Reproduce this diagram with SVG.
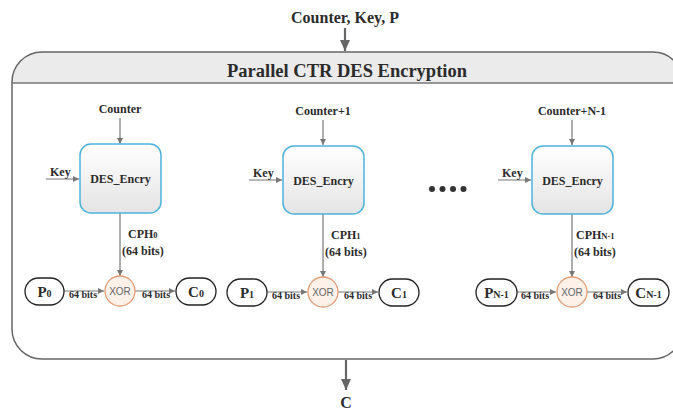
<svg xmlns="http://www.w3.org/2000/svg" width="673" height="410" viewBox="0 0 673 410">
<defs>
<linearGradient id="boxg" x1="0" y1="0" x2="0" y2="1">
<stop offset="0" stop-color="#ffffff"/>
<stop offset="1" stop-color="#e4e4e4"/>
</linearGradient>
<marker id="ah" markerUnits="userSpaceOnUse" markerWidth="7" markerHeight="7" refX="6" refY="3.5" orient="auto">
<path d="M0,0.5 L6,3.5 L0,6.5 Z" fill="#777"/>
</marker>
<marker id="ahb" markerUnits="userSpaceOnUse" markerWidth="12" markerHeight="12" refX="11" refY="6" orient="auto">
<path d="M0,1 L11,6 L0,11 Z" fill="#666"/>
</marker>
</defs>
<style>
.t{font-family:"Liberation Serif","Times New Roman",serif;font-weight:bold;fill:#2b2b2b}
.lbl{font-size:12px}
.sm{font-size:10px}
.pill{fill:#fff;stroke:#222;stroke-width:1.3}
.des{fill:url(#boxg);stroke:#4fb3d9;stroke-width:1.5}
.xor{fill:#fdf1ea;stroke:#e39a73;stroke-width:1.3}
.xt{font-family:"Liberation Sans",Arial,sans-serif;font-size:10px;fill:#666}
.ln{stroke:#777;stroke-width:1.2;fill:none}
.lnb{stroke:#666;stroke-width:2.2;fill:none}
</style>

<g id="container">
<path d="M12,83 V82 A30,30 0 0 1 42,52 H653 A30,30 0 0 1 683,82 V83 Z" fill="#ebebeb"/>
<path d="M42,52 H653 A30,30 0 0 1 683,82 V329 A30,30 0 0 1 653,359 H42 A30,30 0 0 1 12,329 V82 A30,30 0 0 1 42,52 Z" fill="none" stroke="#666" stroke-width="1.5"/>
<line x1="12" y1="83" x2="683" y2="83" stroke="#777" stroke-width="1.5"/>
<text class="t" x="347" y="77" font-size="18.5" text-anchor="middle">Parallel CTR DES Encryption</text>
</g>

<g id="input">
<text class="t" x="345" y="23" font-size="16" text-anchor="middle">Counter, Key, P</text>
</g>
<g id="output">
<text class="t" x="346" y="408" font-size="16" text-anchor="middle">C</text>
</g>

<g id="connectors">
<line class="lnb" x1="345" y1="28" x2="345" y2="51" marker-end="url(#ahb)"/>
<line class="lnb" x1="346" y1="360" x2="346" y2="390" marker-end="url(#ahb)"/>
<line class="ln" x1="120" y1="118" x2="120" y2="144" marker-end="url(#ah)"/>
<line class="ln" x1="46" y1="179" x2="79" y2="179" marker-end="url(#ah)"/>
<line class="ln" x1="120" y1="213" x2="120" y2="276" marker-end="url(#ah)"/>
<line class="ln" x1="64" y1="291" x2="104" y2="291" marker-end="url(#ah)"/>
<line class="ln" x1="135" y1="291" x2="175" y2="291" marker-end="url(#ah)"/>
<line class="ln" x1="323" y1="120" x2="323" y2="145" marker-end="url(#ah)"/>
<line class="ln" x1="249" y1="180" x2="282" y2="180" marker-end="url(#ah)"/>
<line class="ln" x1="323" y1="214" x2="323" y2="277" marker-end="url(#ah)"/>
<line class="ln" x1="267" y1="292" x2="307" y2="292" marker-end="url(#ah)"/>
<line class="ln" x1="338" y1="292" x2="378" y2="292" marker-end="url(#ah)"/>
<line class="ln" x1="572" y1="120" x2="572" y2="145" marker-end="url(#ah)"/>
<line class="ln" x1="498" y1="180" x2="531" y2="180" marker-end="url(#ah)"/>
<line class="ln" x1="572" y1="214" x2="572" y2="277" marker-end="url(#ah)"/>
<line class="ln" x1="517" y1="292" x2="556" y2="292" marker-end="url(#ah)"/>
<line class="ln" x1="587" y1="292" x2="627" y2="292" marker-end="url(#ah)"/>
</g>

<g id="labels">
<text class="t lbl" x="120" y="113" text-anchor="middle">Counter</text>
<text class="t lbl" x="50" y="176">Key</text>
<text class="t lbl" x="128" y="238">CPH<tspan font-size="8.5">0</tspan></text>
<text class="t lbl" x="122" y="255">(64 bits)</text>
<text class="t sm" x="69" y="298">64 bits</text>
<text class="t sm" x="142" y="298">64 bits</text>

<text class="t lbl" x="323" y="115" text-anchor="middle">Counter+1</text>
<text class="t lbl" x="253" y="177">Key</text>
<text class="t lbl" x="331" y="239">CPH<tspan font-size="8.5">1</tspan></text>
<text class="t lbl" x="325" y="256">(64 bits)</text>
<text class="t sm" x="272" y="299">64 bits</text>
<text class="t sm" x="344" y="299">64 bits</text>

<text class="t lbl" x="572" y="115" text-anchor="middle">Counter+N-1</text>
<text class="t lbl" x="502" y="177">Key</text>
<text class="t lbl" x="576" y="239">CPH<tspan font-size="8.5">N-1</tspan></text>
<text class="t lbl" x="574" y="256">(64 bits)</text>
<text class="t sm" x="521" y="299">64 bits</text>
<text class="t sm" x="593" y="299">64 bits</text>
</g>

<g id="des0"><rect class="des" x="80" y="144" width="81" height="69" rx="11"/><text class="t lbl" x="120.5" y="183" text-anchor="middle">DES_Encry</text></g>
<g id="des1"><rect class="des" x="283" y="146" width="81" height="68" rx="11"/><text class="t lbl" x="323.5" y="185" text-anchor="middle">DES_Encry</text></g>
<g id="desN"><rect class="des" x="532" y="146" width="81" height="68" rx="11"/><text class="t lbl" x="572.5" y="185" text-anchor="middle">DES_Encry</text></g>

<g id="xor0"><circle class="xor" cx="120" cy="291" r="15"/><text class="xt" x="120" y="295" text-anchor="middle">XOR</text></g>
<g id="xor1"><circle class="xor" cx="323" cy="292" r="15"/><text class="xt" x="323" y="296" text-anchor="middle">XOR</text></g>
<g id="xorN"><circle class="xor" cx="572" cy="292" r="15"/><text class="xt" x="572" y="296" text-anchor="middle">XOR</text></g>

<g id="p0"><rect class="pill" x="25" y="278" width="39" height="27" rx="13.5"/><text class="t" font-size="15" x="44.5" y="297" text-anchor="middle">P<tspan font-size="10">0</tspan></text></g>
<g id="c0"><rect class="pill" x="176" y="278" width="40" height="27" rx="13.5"/><text class="t" font-size="15" x="196" y="297" text-anchor="middle">C<tspan font-size="10">0</tspan></text></g>
<g id="p1"><rect class="pill" x="227" y="279" width="40" height="27" rx="13.5"/><text class="t" font-size="15" x="247" y="298" text-anchor="middle">P<tspan font-size="10">1</tspan></text></g>
<g id="c1"><rect class="pill" x="379" y="279" width="40" height="27" rx="13.5"/><text class="t" font-size="15" x="399" y="298" text-anchor="middle">C<tspan font-size="10">1</tspan></text></g>
<g id="pN"><rect class="pill" x="476" y="279" width="41" height="27" rx="13.5"/><text class="t" font-size="15" x="496.5" y="298" text-anchor="middle">P<tspan font-size="10">N-1</tspan></text></g>
<g id="cN"><rect class="pill" x="628" y="279" width="41" height="27" rx="13.5"/><text class="t" font-size="15" x="648.5" y="298" text-anchor="middle">C<tspan font-size="10">N-1</tspan></text></g>

<g id="ellipsis" fill="#333">
<circle cx="432" cy="189" r="3"/>
<circle cx="442.5" cy="189" r="3"/>
<circle cx="453" cy="189" r="3"/>
<circle cx="463.5" cy="189" r="3"/>
</g>
</svg>
